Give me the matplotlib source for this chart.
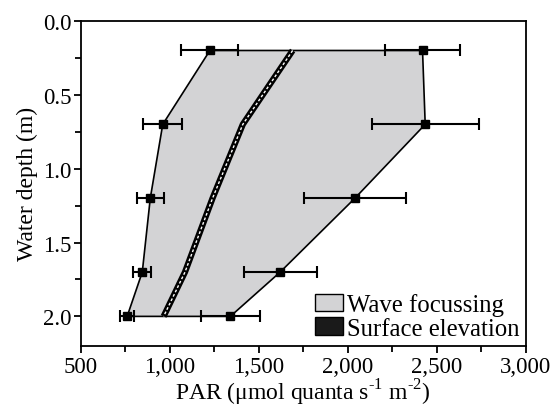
import matplotlib
matplotlib.use('Agg')
import matplotlib.pyplot as plt
from matplotlib.patches import Patch
from matplotlib.ticker import MultipleLocator, FuncFormatter

plt.rcParams['font.family'] = ['Liberation Serif', 'DejaVu Serif']
plt.rcParams['mathtext.fontset'] = 'custom'
plt.rcParams['mathtext.rm'] = 'Liberation Serif'

# 水深 (m)
depth = [0.2, 0.7, 1.2, 1.7, 2.0]
# 波聚焦 最小 / 最大 PAR
par_min = [1225, 960, 890, 845, 760]
err_min = [160, 110, 75, 50, 40]
par_max = [2420, 2435, 2040, 1620, 1340]
err_max = [210, 300, 285, 205, 165]
# 水面抬升
par_surf = [1690, 1410, 1240, 1085, 965]

fig, ax = plt.subplots(figsize=(5.54, 4.14), dpi=100)
fig.subplots_adjust(left=0.146, right=0.949, top=0.947, bottom=0.162)

# 灰色区域
xs = par_min + par_max[::-1]
ys = depth + depth[::-1]
ax.fill(xs, ys, facecolor='#d3d3d5', edgecolor='black', linewidth=1.2, zorder=1)

# 误差棒
ax.errorbar(par_min, depth, xerr=err_min, fmt='s', color='black', ms=6,
            elinewidth=1.5, capsize=4, capthick=1.5, zorder=3)
ax.errorbar(par_max, depth, xerr=err_max, fmt='s', color='black', ms=6,
            elinewidth=1.5, capsize=4, capthick=1.5, zorder=3)

# 中间线
ax.plot(par_surf, depth, color='black', lw=4.5, zorder=2, solid_capstyle='butt')
ax.plot(par_surf, depth, color='white', lw=1.0, ls=(0, (2, 1.5)), zorder=2)

ax.set_xlim(500, 3000)
ax.set_ylim(2.2, 0.0)
ax.xaxis.set_major_locator(MultipleLocator(500))
ax.xaxis.set_minor_locator(MultipleLocator(250))
ax.yaxis.set_major_locator(MultipleLocator(0.5))
ax.yaxis.set_minor_locator(MultipleLocator(0.25))
ax.xaxis.set_major_formatter(FuncFormatter(lambda v, p: '{:,.0f}'.format(v)))
ax.yaxis.set_major_formatter(FuncFormatter(lambda v, p: '{:.1f}'.format(v)))
ax.tick_params(which='both', direction='out', top=False, right=False, width=1.3, labelsize=16.5)
ax.tick_params(which='major', length=5, pad=2)
ax.tick_params(which='minor', length=4)
for s in ax.spines.values():
    s.set_linewidth(1.3)

ax.set_xlabel(r'PAR ($\mathrm{\mu}$mol quanta s$^{\text{-1}}$ m$^{\text{-2}}$)', fontsize=17, labelpad=0)
ax.set_ylabel('Water depth (m)', fontsize=17, labelpad=3)

handles = [Patch(facecolor='#d3d3d5', edgecolor='black', label='Wave focussing'),
           Patch(facecolor='#1a1a1a', edgecolor='black', label='Surface elevation')]
ax.legend(handles=handles, loc='lower right', frameon=False, fontsize=17.8,
          handlelength=1.15, handleheight=0.7, handletextpad=0.15, labelspacing=0.05,
          borderaxespad=0.15, borderpad=0.1)

plt.savefig('out.png', dpi=100)
